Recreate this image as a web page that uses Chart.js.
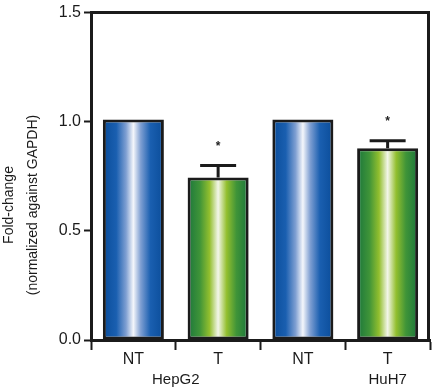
<!DOCTYPE html>
<html>
<head>
<meta charset="utf-8">
<script src="https://cdn.jsdelivr.net/npm/chart.js@4.4.0/dist/chart.umd.min.js"></script>
<style>
  html, body { margin: 0; padding: 0; background: #fff; }
  #wrap { width: 433px; height: 390px; }
</style>
</head>
<body>
<div id="wrap"><canvas id="chart" width="433" height="390"></canvas></div>
<script>
// Values
const categories = ['NT', 'T', 'NT', 'T'];
const foldChange = [1.01, 0.745, 1.01, 0.878];
const upperError = [0, 0.055, 0, 0.035];
const significance = ['', '*', '', '*'];
const cellLines = ['HepG2', 'HuH7'];
const yTicks = [0, 0.5, 1.0, 1.5];

const NARROW = "'Liberation Sans Narrow', 'Liberation Sans', Arial, sans-serif";
const FONT = "'Liberation Sans', Arial, sans-serif";
const INK = '#1b1b1b';

// Horizontal "cylinder" gradient for each bar
function barGradient(ctx) {
  const chart = ctx.chart;
  const { chartArea, scales } = chart;
  if (!chartArea) return '#1a5aa8';
  const cx = scales.x.getPixelForValue(ctx.dataIndex);
  const w = (scales.x.width / categories.length) * 0.72;
  const g = chart.ctx.createLinearGradient(cx - w / 2, 0, cx + w / 2, 0);
  if (categories[ctx.dataIndex] === 'NT') {
    g.addColorStop(0, '#0a4c99');
    g.addColorStop(0.22, '#1a5fb0');
    g.addColorStop(0.38, '#7f9fd2');
    g.addColorStop(0.5, '#f4f6fb');
    g.addColorStop(0.62, '#7f9fd2');
    g.addColorStop(0.78, '#1a5fb0');
    g.addColorStop(1, '#0a4c99');
  } else {
    g.addColorStop(0, '#1b763c');
    g.addColorStop(0.2, '#3f9438');
    g.addColorStop(0.36, '#93bf2e');
    g.addColorStop(0.5, '#f3f6ea');
    g.addColorStop(0.64, '#93bf2e');
    g.addColorStop(0.8, '#3f9438');
    g.addColorStop(1, '#1b763c');
  }
  return g;
}

// Error bars, asterisks, frame, axis title, group labels
const extras = {
  id: 'extras',
  afterDatasetsDraw(chart) {
    const { ctx, scales: { x, y } } = chart;
    ctx.save();
    ctx.strokeStyle = INK;
    ctx.lineWidth = 3;
    foldChange.forEach((v, i) => {
      if (!upperError[i]) return;
      const cx = x.getPixelForValue(i);
      const top = y.getPixelForValue(v + upperError[i]);
      ctx.beginPath();
      ctx.moveTo(cx, y.getPixelForValue(v));
      ctx.lineTo(cx, top);
      ctx.moveTo(cx - 18, top);
      ctx.lineTo(cx + 18, top);
      ctx.stroke();
    });
    ctx.fillStyle = '#222';
    ctx.font = "bold 12px " + FONT;
    ctx.textAlign = 'center';
    ctx.textBaseline = 'middle';
    significance.forEach((s, i) => {
      if (!s) return;
      const cx = x.getPixelForValue(i);
      ctx.fillText(s, cx, y.getPixelForValue(foldChange[i] + upperError[i]) - 19);
    });
    ctx.restore();
  },
  afterDraw(chart) {
    const { ctx, chartArea: a, scales: { x } } = chart;
    ctx.save();
    // top and right frame
    ctx.strokeStyle = INK;
    ctx.lineWidth = 3;
    ctx.beginPath();
    ctx.moveTo(a.left, a.top);
    ctx.lineTo(a.right - 1.5, a.top);
    ctx.lineTo(a.right - 1.5, a.bottom);
    ctx.stroke();

    // y axis title (two lines)
    ctx.fillStyle = INK;
    ctx.font = "14px " + FONT;
    ctx.textAlign = 'center';
    ctx.textBaseline = 'middle';
    ctx.translate(9, 205);
    ctx.rotate(-Math.PI / 2);
    ctx.fillText('Fold-change', 0, 0);
    ctx.fillText('(normalized against GAPDH)', 0, 24);
    ctx.setTransform(1, 0, 0, 1, 0, 0);

    // cell line labels
    ctx.font = "15px " + FONT;
    ctx.textBaseline = 'alphabetic';
    ctx.fillText(cellLines[0], (x.getPixelForValue(0) + x.getPixelForValue(1)) / 2, 384);
    ctx.fillText(cellLines[1], x.getPixelForValue(3), 384);
    ctx.restore();
  }
};

new Chart(document.getElementById('chart'), {
  type: 'bar',
  data: {
    labels: categories,
    datasets: [{
      data: foldChange,
      backgroundColor: barGradient,
      borderColor: INK,
      borderWidth: 3,
      borderSkipped: false,
      categoryPercentage: 1,
      barPercentage: 0.72
    }]
  },
  options: {
    responsive: false,
    animation: false,
    devicePixelRatio: 1,
    layout: { padding: { top: 10.5, right: 3, left: 0, bottom: 0 } },
    plugins: {
      legend: { display: false },
      tooltip: { enabled: false },
      title: { display: false }
    },
    scales: {
      x: {
        offset: true,
        grid: {
          offset: true,
          drawOnChartArea: false,
          tickLength: 10,
          tickWidth: 2,
          tickColor: INK
        },
        border: { color: INK, width: 3 },
        ticks: {
          color: INK,
          padding: 0,
          font: { family: NARROW, size: 16 }
        },
        afterFit(scale) { scale.height = 50; }
      },
      y: {
        min: 0,
        max: 1.5,
        afterBuildTicks(scale) { scale.ticks = yTicks.map(v => ({ value: v })); },
        grid: {
          drawOnChartArea: false,
          tickLength: 7,
          tickWidth: 2,
          tickColor: INK
        },
        border: { color: INK, width: 3 },
        ticks: {
          color: INK,
          padding: 3,
          font: { family: NARROW, size: 16 },
          callback: v => v.toFixed(1)
        },
        afterFit(scale) { scale.width = 91; }
      }
    }
  },
  plugins: [extras]
});
</script>
</body>
</html>
